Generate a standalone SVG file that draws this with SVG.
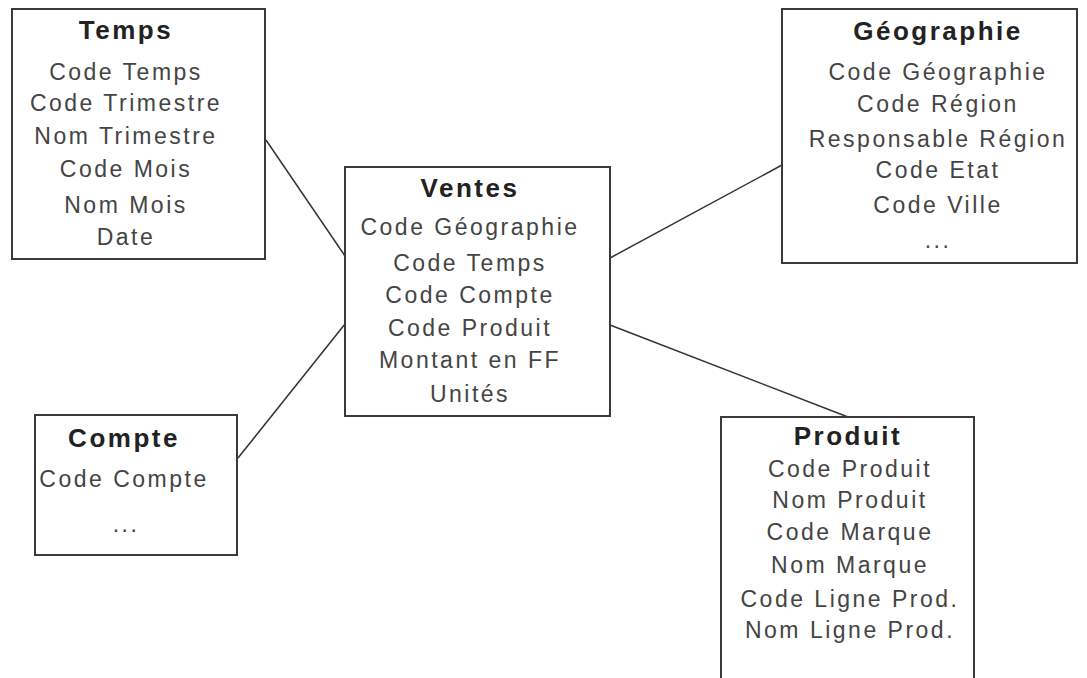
<svg xmlns="http://www.w3.org/2000/svg" width="1087" height="678" viewBox="0 0 1087 678">
<style>
.box{fill:#ffffff;stroke:#3a3a3a;stroke-width:2}
.t{font-family:"Liberation Sans",Arial,sans-serif;font-weight:bold;font-size:26px;letter-spacing:2.5px;fill:#222;text-anchor:middle}
.f{font-family:"Liberation Sans",Arial,sans-serif;font-size:23px;letter-spacing:2.5px;fill:#444;text-anchor:middle}
.c{stroke:#333;stroke-width:1.5;fill:none}
</style>
<rect x="0" y="0" width="1087" height="678" fill="#ffffff"/>
<g id="connectors">
<line class="c" x1="266" y1="140" x2="345" y2="256"/>
<line class="c" x1="238" y1="458" x2="345" y2="324"/>
<line class="c" x1="610" y1="258" x2="782" y2="165"/>
<line class="c" x1="610" y1="325" x2="848" y2="417"/>
</g>
<g id="temps">
<rect class="box" x="12" y="9" width="253" height="250"/>
<text class="t" x="126" y="39">Temps</text>
<text class="f" x="126" y="80">Code Temps</text>
<text class="f" x="126" y="111">Code Trimestre</text>
<text class="f" x="126" y="144">Nom Trimestre</text>
<text class="f" x="126" y="177">Code Mois</text>
<text class="f" x="126" y="213">Nom Mois</text>
<text class="f" x="126" y="245">Date</text>
</g>
<g id="ventes">
<rect class="box" x="345" y="167" width="265" height="249"/>
<text class="t" x="470" y="197">Ventes</text>
<text class="f" x="470" y="235">Code Géographie</text>
<text class="f" x="470" y="271">Code Temps</text>
<text class="f" x="470" y="303">Code Compte</text>
<text class="f" x="470" y="336">Code Produit</text>
<text class="f" x="470" y="368">Montant en FF</text>
<text class="f" x="470" y="402">Unités</text>
</g>
<g id="geographie">
<rect class="box" x="782" y="9" width="295" height="254"/>
<text class="t" x="938" y="40">Géographie</text>
<text class="f" x="938" y="80">Code Géographie</text>
<text class="f" x="938" y="112">Code Région</text>
<text class="f" x="938" y="147">Responsable Région</text>
<text class="f" x="938" y="178">Code Etat</text>
<text class="f" x="938" y="213">Code Ville</text>
<text class="f" x="938" y="248">...</text>
</g>
<g id="compte">
<rect class="box" x="35" y="415" width="202" height="140"/>
<text class="t" x="124" y="447">Compte</text>
<text class="f" x="124" y="487">Code Compte</text>
<text class="f" x="126" y="532">...</text>
</g>
<g id="produit">
<rect class="box" x="721" y="417" width="253" height="275"/>
<text class="t" x="848" y="445">Produit</text>
<text class="f" x="850" y="477">Code Produit</text>
<text class="f" x="850" y="508">Nom Produit</text>
<text class="f" x="850" y="540">Code Marque</text>
<text class="f" x="850" y="573">Nom Marque</text>
<text class="f" x="850" y="607">Code Ligne Prod.</text>
<text class="f" x="850" y="638">Nom Ligne Prod.</text>
</g>
</svg>
